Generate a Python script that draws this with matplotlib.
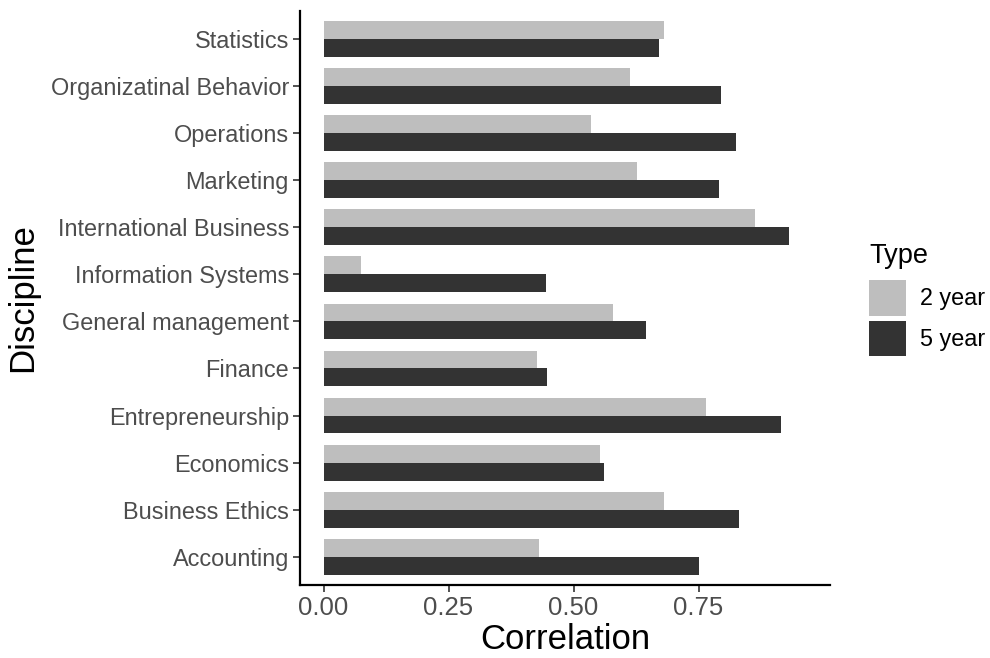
import matplotlib
matplotlib.use("Agg")
import matplotlib.pyplot as plt
import numpy as np
from matplotlib.patches import Patch

plt.rcParams['font.family'] = ['Liberation Sans', 'DejaVu Sans']

disciplines = ["Accounting", "Business Ethics", "Economics", "Entrepreneurship",
               "Finance", "General management", "Information Systems",
               "International Business", "Marketing", "Operations",
               "Organizatinal Behavior", "Statistics"]
two_year = [0.430, 0.681, 0.552, 0.764, 0.426, 0.578, 0.074, 0.862, 0.627, 0.534, 0.613, 0.681]
five_year = [0.751, 0.831, 0.560, 0.914, 0.446, 0.645, 0.444, 0.930, 0.790, 0.824, 0.794, 0.671]
series_labels = ["2 year", "5 year"]
xticks = [0.0, 0.25, 0.5, 0.75]
xtick_labels = ["0.00", "0.25", "0.50", "0.75"]

c2 = "#BEBEBE"
c5 = "#333333"

fig = plt.figure(figsize=(9.9, 6.58), dpi=100)
W, H = 990, 658
left, right, top, bottom = 300, 830, 10.8, 585
ax = fig.add_axes([left / W, 1 - bottom / H, (right - left) / W, (bottom - top) / H])

y = np.arange(len(disciplines))
h = 0.38
ax.barh(y + h / 2, two_year, height=h, color=c2, label=series_labels[0])
ax.barh(y - h / 2, five_year, height=h, color=c5, label=series_labels[1])

ax.set_xlim(-0.047, 1.013)
ax.set_ylim(-0.6, len(disciplines) - 1 + 0.6)
ax.set_yticks(y)
ax.set_yticklabels(disciplines)
ax.set_xticks(xticks)
ax.set_xticklabels(xtick_labels)

for s in ["top", "right"]:
    ax.spines[s].set_visible(False)
for s in ["left", "bottom"]:
    ax.spines[s].set_linewidth(1.6)
    ax.spines[s].set_color("black")

ax.tick_params(axis="both", colors="#333333", width=1.2, length=5)
ax.tick_params(axis="y", labelsize=16.9, labelcolor="#4D4D4D", pad=3)
ax.tick_params(axis="x", labelsize=18.5, labelcolor="#4D4D4D", pad=3)

ax.set_xlabel("Correlation", fontsize=25, color="black", labelpad=2)
ax.set_ylabel("Discipline", fontsize=25, color="black", labelpad=8)

handles = [Patch(facecolor=c2, edgecolor="none"), Patch(facecolor=c5, edgecolor="none")]
leg = fig.legend(handles, series_labels, title="Type", loc="upper left",
                 bbox_to_anchor=(869 / W, 1 - 243 / H), frameon=False,
                 fontsize=16.8, title_fontsize=19.5, handlelength=1.59, handleheight=1.96,
                 handletextpad=0.6, labelspacing=0.22, borderaxespad=0, borderpad=0)
leg._legend_box.align = "left"
leg._legend_box.sep = 8

fig.savefig("out.png", dpi=100)
